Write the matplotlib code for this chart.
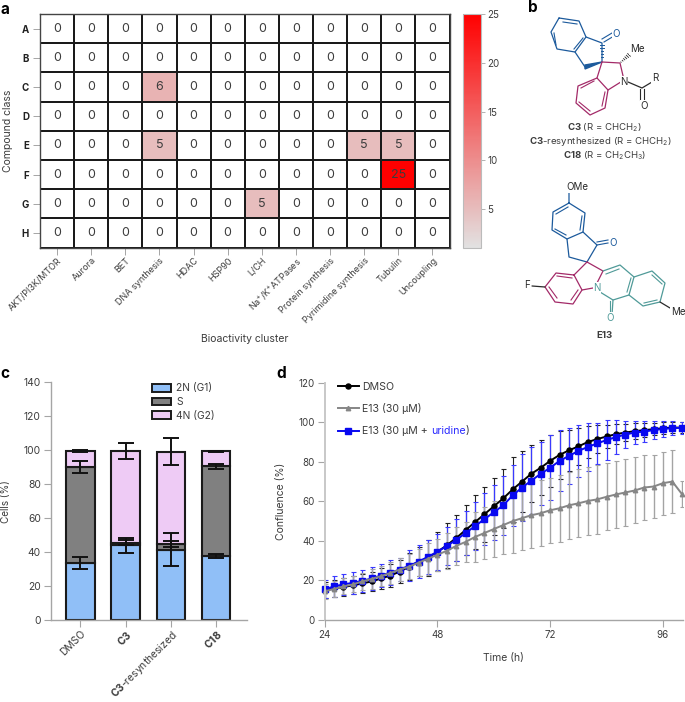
import numpy as np
import matplotlib as mpl
mpl.use('Agg')
import matplotlib.pyplot as plt
from matplotlib.colors import LinearSegmentedColormap
from matplotlib.patches import Patch, Polygon

W, H = 685, 702
FAM = ['Inter', 'DejaVu Sans']
plt.rcParams['font.family'] = FAM
plt.rcParams['mathtext.fontset'] = 'custom'
plt.rcParams['mathtext.rm'] = 'Inter'
plt.rcParams['mathtext.bf'] = 'Inter:bold'
plt.rcParams['font.size'] = 7

TXT = '#3c3c3c'
AX = '#a5a5a5'

# panel a
clusters = ['AKT/PI3K/MTOR', 'Aurora', 'BET', 'DNA synthesis', 'HDAC', 'HSP90', 'L/CH',
            r'Na$^{+}$/K$^{+}$ATPases', 'Protein synthesis', 'Pyrimidine synthesis',
            'Tubulin', 'Uncoupling']
classes = ['A', 'B', 'C', 'D', 'E', 'F', 'G', 'H']
counts = [
    [0, 0, 0, 0, 0, 0, 0, 0, 0, 0, 0, 0],
    [0, 0, 0, 0, 0, 0, 0, 0, 0, 0, 0, 0],
    [0, 0, 0, 6, 0, 0, 0, 0, 0, 0, 0, 0],
    [0, 0, 0, 0, 0, 0, 0, 0, 0, 0, 0, 0],
    [0, 0, 0, 5, 0, 0, 0, 0, 0, 5, 5, 0],
    [0, 0, 0, 0, 0, 0, 0, 0, 0, 0, 25, 0],
    [0, 0, 0, 0, 0, 0, 5, 0, 0, 0, 0, 0],
    [0, 0, 0, 0, 0, 0, 0, 0, 0, 0, 0, 0],
]
cbar_ticks = [5, 10, 15, 20, 25]

# panel c
samples = [r'DMSO', r'$\mathbf{C3}$', r'$\mathbf{C3}$-resynthesized', r'$\mathbf{C18}$']
g1 = [33.5, 44, 41.5, 37.5]
s_phase = [56.5, 1.5, 3.5, 53]
g2 = [9.5, 54, 54, 9]
g1_err = [3.5, 4.5, 9.5, 1.2]
s_err = [3.5, 1.5, 1.8, 1.5]
g2_err = [0.4, 4.8, 8, 0.3]

# panel d
time_h = list(range(24, 101, 2))
dmso = [15, 16, 16.7, 17.5, 18.5, 19.5, 21, 22.5, 24.5, 27, 29.5, 31.5, 34.5, 37.8, 41.5,
        45.5, 49.5, 53.5, 57.5, 61.5, 66, 70, 74, 77, 80.5, 83.5, 85.8, 87.8, 90, 91.5,
        92.8, 94, 94.8, 95.5, 96, 96.5, 97, 97.3, 97.3]
dmso_err = [4, 4.2, 4.4, 4.6, 4.8, 5, 5.5, 5.8, 6, 7, 7.5, 9, 9.8, 11.5, 11.6, 12.5, 13.5,
            14, 14.5, 15, 16.5, 15.5, 14.5, 14, 13, 12, 10.5, 9.5, 8, 7, 6, 5, 4.5, 4,
            3.5, 3, 3, 2.8, 2.8]
e13 = [14.5, 15.7, 17, 18, 19.5, 20.8, 22.2, 23.8, 25.5, 27, 29, 31, 33, 35, 37.5, 39.5,
       42, 44, 46, 48, 50, 51.5, 53, 54, 55.5, 56.5, 58, 59, 60.2, 61, 62.3, 63.5, 64.5,
       65.5, 67, 67.5, 69.2, 70, 63.8]
e13_err = [3.7, 4, 4, 4, 4.5, 5, 5, 5.5, 6, 6.5, 7, 8, 8, 9, 9.5, 10, 12.5, 13, 14, 14.5,
           16, 16.3, 16.5, 16.7, 16.5, 17, 17, 17.2, 17.2, 17.5, 17, 17, 17, 16.7, 16.5,
           16, 16, 16, 6.5]
uridine = [15.5, 17, 18, 18.8, 19.8, 21, 22.5, 24, 25.5, 27.5, 29.5, 32, 34.5, 37.5, 40.5,
           44, 47.5, 51, 54.5, 58, 63, 67, 70.5, 74, 77, 80.5, 83, 85.5, 87.5, 89.3, 91,
           92.5, 93.8, 94.8, 95.3, 96, 96.6, 97, 97.2]
uridine_err = [4.5, 5.5, 5.5, 5.5, 5.7, 5.8, 6, 6.2, 6, 8, 8.5, 8.5, 9, 9.5, 10.5, 11, 12,
               13, 14, 15, 15.5, 17, 17, 16, 16.5, 15.5, 14, 13, 12, 10.5, 10, 8.5, 7, 6,
               5.5, 4.5, 4, 3.5, 3]

# panel b, structure outlines on the page (px)
BLUE = '#1c5a9c'
RED = '#a32a68'
TEAL = '#4f9a98'
INK = '#2a2a2a'
c3_bonds = [
    (BLUE, [(559, 18), (579, 21), (586, 37), (575, 52), (557, 49), (551, 32), (559, 18)]),
    (BLUE, [(586, 37), (602, 43), (602, 62)]),
    (BLUE, [(585, 67), (575, 52)]),
    (RED, [(602, 62), (597, 78), (608, 90), (624, 80)]),
    (RED, [(602, 62), (620, 63), (624, 80)]),
    (RED, [(597, 78), (578, 86), (576, 103), (590, 115), (605, 108), (608, 90)]),
    (INK, [(628, 82), (642, 88), (652, 82)]),
]
c3_double = [
    (BLUE, (563, 22), (577, 24)), (BLUE, (583, 38), (574, 49)), (BLUE, (556, 45), (554, 33)),
    (RED, (581, 88), (594, 81)), (RED, (579, 102), (590, 111)), (RED, (602, 106), (605, 92)),
    (BLUE, (604, 42), (614, 36)), (BLUE, (602, 39), (612, 33)),
    (INK, (640, 89), (640, 100)), (INK, (644, 89), (644, 100)),
]
e13_bonds = [
    (BLUE, [(569, 193), (569, 203), (585, 213), (583, 232), (567, 239), (552, 230), (553, 212), (569, 203)]),
    (BLUE, [(583, 232), (597, 245), (587, 262), (569, 257), (567, 239)]),
    (RED, [(587, 262), (574, 275), (556, 273), (545, 287), (555, 302), (573, 304), (582, 290), (574, 275)]),
    (RED, [(587, 262), (603, 271), (597, 283)]),
    (RED, [(582, 290), (593, 288)]),
    (TEAL, [(603, 271), (620, 265), (634, 277), (629, 295), (613, 300), (600, 292)]),
    (TEAL, [(634, 277), (652, 271), (665, 283), (660, 302), (643, 306), (629, 295)]),
    (TEAL, [(613, 300), (612, 315)]),
    (INK, [(660, 302), (670, 308)]),
    (INK, [(532, 286), (545, 287)]),
]
e13_double = [
    (BLUE, (582, 216), (580, 230)), (BLUE, (566, 235), (555, 229)), (BLUE, (556, 214), (568, 207)),
    (BLUE, (597, 245), (608, 243)), (BLUE, (597, 242), (608, 240)),
    (RED, (557, 276), (572, 278)), (RED, (549, 287), (557, 298)), (RED, (571, 300), (578, 290)),
    (TEAL, (606, 274), (619, 269)), (TEAL, (631, 278), (627, 292)),
    (TEAL, (652, 275), (662, 284)), (TEAL, (657, 300), (644, 303)),
    (TEAL, (610, 301), (610, 315)),
]


def axes_px(fig, left, top, right, bottom):
    return fig.add_axes([left / W, 1 - bottom / H, (right - left) / W, (bottom - top) / H])


fig = plt.figure(figsize=(W / 100, H / 100), dpi=100)

# a: heatmap
ax = axes_px(fig, 40, 14, 449.5, 247.5)
cmap = LinearSegmentedColormap.from_list('gr', ['#e2e2e2', '#ff0000'])
cmap.set_under('white')
arr = np.array(counts)
mesh = ax.pcolormesh(arr, cmap=cmap, vmin=1, vmax=25, edgecolors='#1a1a1a', linewidth=1.1)
ax.invert_yaxis()
for i in range(arr.shape[0]):
    for j in range(arr.shape[1]):
        ax.text(j + 0.5, i + 0.5, str(arr[i, j]), ha='center', va='center', fontsize=9, color=TXT)
ax.set_xticks(np.arange(len(clusters)) + 0.5)
ax.set_yticks(np.arange(len(classes)) + 0.5)
ax.set_xticklabels(clusters, rotation=45, ha='right', rotation_mode='anchor', fontsize=6.5, color=TXT)
ax.set_yticklabels(classes, fontweight='bold', fontsize=7, color='#222222')
ax.tick_params(length=5, width=0.7, color=AX, pad=1)
ax.tick_params(axis='y', pad=3)
ax.set_xlabel('Bioactivity cluster', fontsize=7.5, color=TXT, labelpad=0)
ax.xaxis.set_label_coords(0.5, -0.37)
ax.set_ylabel('Compound class', fontsize=7.5, color=TXT)
ax.yaxis.set_label_coords(-0.066, 0.5)
for sp in ax.spines.values():
    sp.set_color('#444444')
    sp.set_linewidth(1)

cax = axes_px(fig, 462.5, 14, 480.5, 248)
cb = fig.colorbar(mesh, cax=cax, ticks=cbar_ticks, extend='neither')
cb.ax.tick_params(length=3, width=0.6, color=AX, labelsize=7, labelcolor=TXT, pad=2)
cb.outline.set_edgecolor('#bbbbbb')

# c: stacked bars
ax = axes_px(fig, 50.5, 382.3, 247, 620)
x = np.arange(len(samples))
g1a, sa, g2a = np.array(g1), np.array(s_phase), np.array(g2)
kw = dict(width=0.63, edgecolor='#1a1a1a', linewidth=1.5)
ax.bar(x, g1a, color='#90bff7', **kw)
ax.bar(x, sa, bottom=g1a, color='#808080', **kw)
ax.bar(x, g2a, bottom=g1a + sa, color='#eecbf5', **kw)
ekw = dict(fmt='none', ecolor='#111111', elinewidth=1.4, capsize=5.5, capthick=1.4)
ax.errorbar(x, g1a, yerr=g1_err, **ekw)
ax.errorbar(x, g1a + sa, yerr=s_err, **ekw)
ax.errorbar(x, g1a + sa + g2a, yerr=g2_err, **ekw)
ax.set_xlim(-0.658, 3.68)
ax.set_ylim(0, 140)
ax.set_yticks(np.arange(0, 141, 20))
ax.set_xticks(x)
ax.set_xticklabels(samples, rotation=45, ha='right', rotation_mode='anchor', fontsize=7.2, color=TXT)
ax.set_ylabel('Cells (%)', fontsize=7.2, color=TXT)
ax.yaxis.set_label_coords(-0.2, 0.5)
ax.tick_params(length=5, width=0.8, color=AX, labelsize=7.4, labelcolor=TXT, pad=2)
ax.tick_params(axis='x', pad=1)
for name in ['top', 'right']:
    ax.spines[name].set_visible(False)
for name in ['left', 'bottom']:
    ax.spines[name].set_color(AX)
    ax.spines[name].set_linewidth(1)
handles = [Patch(facecolor=c, edgecolor='#1a1a1a', linewidth=1.4) for c in ['#90bff7', '#808080', '#eecbf5']]
leg = ax.legend(handles, ['2N (G1)', 'S', '4N (G2)'], frameon=False, fontsize=7.4, loc='upper left',
                bbox_to_anchor=(0.515, 0.995), borderaxespad=0, borderpad=0, labelspacing=0.35,
                handlelength=1.85, handleheight=0.75, handletextpad=0.55)
for t in leg.get_texts():
    t.set_color(TXT)

# d: growth curves
ax = axes_px(fig, 324.7, 382.7, 682.7, 620)
ax.errorbar(time_h, dmso, yerr=dmso_err, fmt='none', ecolor='#222222', elinewidth=0.8, capsize=1.8, capthick=0.8)
ax.errorbar(time_h, uridine, yerr=uridine_err, fmt='none', ecolor='#3a3aff', elinewidth=0.9, capsize=1.8, capthick=0.8)
ax.errorbar(time_h, e13, yerr=e13_err, fmt='none', ecolor='#a4a4a4', elinewidth=1, capsize=1.8, capthick=0.8)
l1, = ax.plot(time_h, dmso, '-o', color='black', lw=1.4, ms=3.6, clip_on=False)
l3, = ax.plot(time_h, uridine, '-s', color='#0808f0', lw=1.4, ms=3.8, clip_on=False)
l2, = ax.plot(time_h, e13, '-^', color='#868686', lw=1.4, ms=3.2, clip_on=False)
ax.set_xlim(24, 100.2)
ax.set_ylim(0, 120)
ax.set_xticks([24, 48, 72, 96])
ax.set_yticks(np.arange(0, 121, 20))
ax.set_xlabel('Time (h)', fontsize=7.5, color=TXT)
ax.xaxis.set_label_coords(0.5, -0.14)
ax.set_ylabel('Confluence (%)', fontsize=7.5, color=TXT)
ax.yaxis.set_label_coords(-0.108, 0.5)
ax.tick_params(length=5, width=0.8, color=AX, labelsize=7, labelcolor=TXT, pad=2)
for name in ['top', 'right']:
    ax.spines[name].set_visible(False)
ax.spines['left'].set_color('#c8c8c8')
ax.spines['left'].set_linewidth(1.4)
ax.spines['bottom'].set_color(AX)
ax.spines['bottom'].set_linewidth(1)
leg = ax.legend([l1, l2, l3], ['DMSO', 'E13 (30 µM)', 'E13 (30 µM + '], frameon=False, fontsize=7.6,
                loc='upper left', bbox_to_anchor=(0.036, 1.005), borderaxespad=0, borderpad=0,
                labelspacing=1.08, handlelength=2, handletextpad=0.35)
for t in leg.get_texts():
    t.set_color(TXT)
u = ax.annotate('uridine', xy=(1, 0), xycoords=leg.get_texts()[2], va='bottom', ha='left',
                fontsize=7.6, color='#2a2aff', zorder=6)
ax.annotate(')', xy=(1, 0), xycoords=u, va='bottom', ha='left', fontsize=7.6, color=TXT, zorder=7)

# page overlay: panel letters and structures
pg = fig.add_axes([0, 0, 1, 1])
pg.set_xlim(0, W)
pg.set_ylim(H, 0)
pg.axis('off')
pg.patch.set_alpha(0)
for label, px, py in [('a', 5, 9), ('b', 533, 8), ('c', 5, 373), ('d', 281, 373)]:
    pg.text(px, py, label, fontsize=11, fontweight='bold', ha='center', va='center', color='black')

for color, pts in c3_bonds + e13_bonds:
    xs, ys = zip(*pts)
    pg.plot(xs, ys, color=color, lw=0.9, solid_joinstyle='round', solid_capstyle='round')
for color, p0, p1 in c3_double + e13_double:
    pg.plot([p0[0], p1[0]], [p0[1], p1[1]], color=color, lw=0.8)
# wedge and hashed bonds of C3
pg.add_patch(Polygon([(602, 62), (585, 65), (585, 69)], color=BLUE))
for f in np.linspace(0.1, 0.9, 6):
    pg.plot([602 - 2.5 * f, 602 + 2.5 * f], [62 - 19 * f, 62 - 19 * f], color=BLUE, lw=0.7)
    pg.plot([620 + 10 * f - 1.5 * f, 620 + 10 * f + 1.5 * f], [63 - 9 * f - 1.5 * f, 63 - 9 * f + 1.5 * f], color=INK, lw=0.6)

atoms = [(616, 34, 'O', BLUE), (637, 49, 'Me', INK), (624, 82, 'N', INK), (655, 78, 'R', INK), (644, 106, 'O', INK),
         (577, 187, 'OMe', INK), (613, 243, 'O', BLUE), (527, 285, 'F', INK), (597, 288, 'N', TEAL),
         (610, 318, 'O', TEAL), (678, 312, 'Me', INK)]
for px, py, label, color in atoms:
    pg.text(px, py, label, fontsize=7, ha='center', va='center', color=color,
            bbox=dict(facecolor='white', edgecolor='none', pad=0.4))
captions = [(604.5, 127.5, r'$\mathbf{C3}$ (R = CHCH$_2$)'),
            (600, 141, r'$\mathbf{C3}$-resynthesized (R = CHCH$_2$)'),
            (604.5, 156, r'$\mathbf{C18}$ (R = CH$_2$CH$_3$)'),
            (604.5, 335, r'$\mathbf{E13}$')]
for px, py, label in captions:
    pg.text(px, py, label, fontsize=6.9, ha='center', va='center', color=TXT)

fig.savefig('out.png', dpi=100)
